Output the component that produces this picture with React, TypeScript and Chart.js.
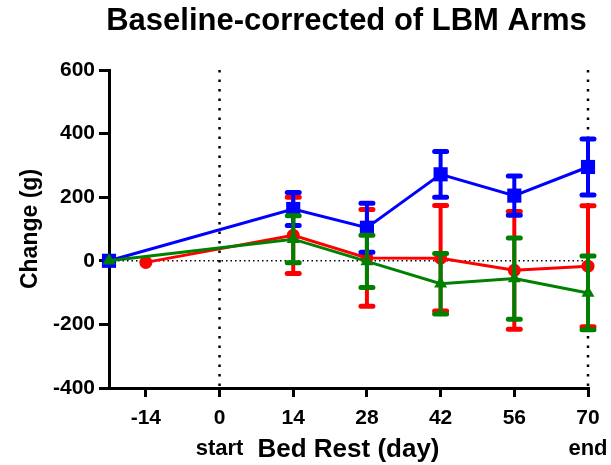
import React, { useEffect, useRef } from 'react';
import { Chart, registerables } from 'chart.js';

Chart.register(...registerables);

const FONT = "'Liberation Sans', Arial, Helvetica, sans-serif";

const chartTitle = 'Baseline-corrected of LBM Arms';
const xAxisTitle = 'Bed Rest (day)';
const yAxisTitle = 'Change (g)';

const xMin = -21;
const xMax = 70;
const xTickValues = [-14, 0, 14, 28, 42, 56, 70];
const yMin = -400;
const yMax = 600;
const yStep = 200;

const phaseDays = [0, 70];
const phaseLabels = ['start', 'end'];

const blueDays = [-21, 14, 28, 42, 56, 70];
const blueMean = [0, 163, 104, 272, 205, 295];
const blueErr = [0, 52, 77, 72, 62, 88];

const greenDays = [-21, 14, 28, 42, 56, 70];
const greenMean = [0, 68, -2, -72, -56, -101];
const greenErr = [0, 74, 82, 95, 128, 116];

const redDays = [-14, 14, 28, 42, 56, 70];
const redMean = [-5, 80, 9, 8, -30, -17];
const redErr = [0, 120, 152, 166, 185, 190];

const BLUE = 'rgb(0,0,255)';
const RED = 'rgb(255,0,0)';
const GREEN = 'rgb(0,128,0)';

const toPoints = (days: number[], vals: number[]) => days.map((d, i) => ({ x: d, y: vals[i] }));

const decorPlugin = {
  id: 'decor',
  beforeDatasetsDraw(chart: any) {
    const { ctx, chartArea, scales } = chart;
    const x = scales.x;
    const y = scales.y;
    ctx.save();
    ctx.strokeStyle = '#000';
    ctx.lineCap = 'butt';
    ctx.lineWidth = 2.5;
    ctx.setLineDash([2.5, 7]);
    phaseDays.forEach((d) => {
      const px = x.getPixelForValue(d);
      ctx.beginPath();
      ctx.moveTo(px, chartArea.top);
      ctx.lineTo(px, chartArea.bottom);
      ctx.stroke();
    });
    ctx.lineWidth = 1.5;
    ctx.setLineDash([1.5, 3]);
    const py = y.getPixelForValue(0);
    ctx.beginPath();
    ctx.moveTo(chartArea.left, py);
    ctx.lineTo(chartArea.right, py);
    ctx.stroke();
    ctx.restore();
  },
  afterDatasetDraw(chart: any, args: any) {
    const ds = chart.data.datasets[args.index];
    const errs: number[] = ds.errors;
    if (!errs) return;
    const { ctx, scales } = chart;
    const x = scales.x;
    const y = scales.y;
    ctx.save();
    ctx.strokeStyle = ds.borderColor;
    ds.data.forEach((p: any, i: number) => {
      const e = errs[i];
      if (!e) return;
      const px = x.getPixelForValue(p.x);
      const top = y.getPixelForValue(p.y + e);
      const bot = y.getPixelForValue(p.y - e);
      ctx.lineCap = 'butt';
      ctx.lineWidth = 4;
      ctx.beginPath();
      ctx.moveTo(px, top);
      ctx.lineTo(px, bot);
      ctx.stroke();
      ctx.lineCap = 'round';
      ctx.lineWidth = 5;
      ctx.beginPath();
      ctx.moveTo(px - 6, top);
      ctx.lineTo(px + 6, top);
      ctx.moveTo(px - 6, bot);
      ctx.lineTo(px + 6, bot);
      ctx.stroke();
    });
    ctx.restore();
  },
  afterDraw(chart: any) {
    const { ctx, chartArea, scales } = chart;
    const x = scales.x;
    ctx.save();
    ctx.fillStyle = '#000';
    ctx.textAlign = 'center';
    ctx.textBaseline = 'middle';
    ctx.font = `bold 31px ${FONT}`;
    ctx.fillText(chartTitle, (chartArea.left + chartArea.right) / 2 - 2, 21);
    ctx.font = `bold 22px ${FONT}`;
    phaseDays.forEach((d, i) => {
      ctx.fillText(phaseLabels[i], x.getPixelForValue(d), 449);
    });
    ctx.restore();
  },
};

export default function App() {
  const ref = useRef<HTMLCanvasElement | null>(null);

  useEffect(() => {
    if (!ref.current) return;
    const common = {
      borderWidth: 3,
      pointBorderWidth: 0,
      fill: false,
      tension: 0,
      clip: false as any,
    };
    const chart = new Chart(ref.current, {
      type: 'line',
      data: {
        datasets: [
          {
            ...common,
            label: 'Green',
            data: toPoints(greenDays, greenMean),
            errors: greenErr,
            borderColor: GREEN,
            backgroundColor: GREEN,
            pointStyle: 'triangle',
            pointRadius: 7.5,
          } as any,
          {
            ...common,
            label: 'Blue',
            data: toPoints(blueDays, blueMean),
            errors: blueErr,
            borderColor: BLUE,
            backgroundColor: BLUE,
            pointStyle: 'rect',
            pointRadius: 10,
          } as any,
          {
            ...common,
            label: 'Red',
            data: toPoints(redDays, redMean),
            errors: redErr,
            borderColor: RED,
            backgroundColor: RED,
            pointStyle: 'circle',
            pointRadius: 6.5,
          } as any,
        ],
      },
      options: {
        responsive: false,
        animation: false,
        events: [],
        layout: { padding: { top: 70, right: 23, bottom: 0, left: 0 } },
        plugins: {
          legend: { display: false },
          tooltip: { enabled: false },
          title: { display: false },
        },
        scales: {
          x: {
            type: 'linear',
            min: xMin,
            max: xMax,
            afterBuildTicks: (scale: any) => {
              scale.ticks = xTickValues.map((v) => ({ value: v }));
            },
            afterFit: (scale: any) => {
              scale.height = 77;
            },
            grid: {
              drawOnChartArea: false,
              drawTicks: true,
              tickLength: 9,
              color: '#000',
              lineWidth: 3,
            },
            border: { display: true, color: '#000', width: 3 },
            ticks: {
              color: '#000',
              padding: 9,
              autoSkip: false,
              maxRotation: 0,
              font: { family: FONT, size: 21, weight: 'bold' },
            },
            title: {
              display: true,
              text: xAxisTitle,
              color: '#000',
              font: { family: FONT, size: 26, weight: 'bold' },
              padding: { top: 0, bottom: 0 },
            },
          } as any,
          y: {
            type: 'linear',
            min: yMin,
            max: yMax,
            afterFit: (scale: any) => {
              scale.width = 109;
            },
            grid: {
              drawOnChartArea: false,
              drawTicks: true,
              tickLength: 10,
              color: '#000',
              lineWidth: 3,
            },
            border: { display: true, color: '#000', width: 3 },
            ticks: {
              stepSize: yStep,
              color: '#000',
              padding: 4,
              font: { family: FONT, size: 21, weight: 'bold' },
            },
            title: {
              display: true,
              text: yAxisTitle,
              color: '#000',
              font: { family: FONT, size: 23, weight: 'bold' },
              padding: { top: 17, bottom: 0 },
            },
          } as any,
        },
      },
      plugins: [decorPlugin],
    });
    return () => chart.destroy();
  }, []);

  return (
    <div style={{ position: 'fixed', left: 0, top: 0, width: 611, height: 465, background: '#fff' }}>
      <canvas ref={ref} width={611} height={465} style={{ display: 'block', width: 611, height: 465 }} />
    </div>
  );
}
